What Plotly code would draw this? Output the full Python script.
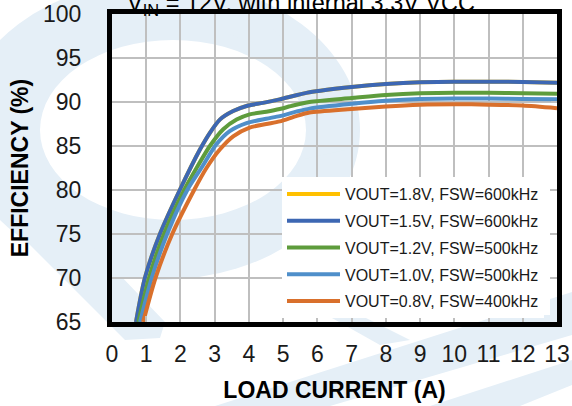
import plotly.graph_objects as go

# load current (A) / efficiency (%)
load_18 = [0.7, 0.96, 1.4, 1.98, 2.57, 2.86, 3.15, 3.54, 3.93, 4.41, 4.9, 5.77, 7, 8, 9, 10, 11, 12, 13]
eff_18 = [65, 70, 75, 80, 84.6, 86.5, 88.0, 88.97, 89.55, 89.9, 90.3, 91.1, 91.7, 92.05, 92.25, 92.3, 92.3, 92.28, 92.2]

load_15 = [0.7, 0.96, 1.4, 1.98, 2.57, 2.86, 3.15, 3.54, 3.93, 4.41, 4.9, 5.77, 7, 8, 9, 10, 11, 12, 13]
eff_15 = [65, 70, 75, 80, 84.6, 86.5, 88.0, 88.97, 89.55, 89.9, 90.3, 91.1, 91.7, 92.05, 92.25, 92.3, 92.3, 92.28, 92.2]

load_12 = [0.77, 1.08, 1.52, 2.11, 2.47, 2.86, 3.25, 3.64, 4.02, 4.51, 4.9, 5.29, 5.77, 7, 8, 9, 10, 11, 12, 13]
eff_12 = [65, 70, 75, 80, 82.5, 85.0, 86.9, 88.0, 88.6, 88.9, 89.2, 89.6, 90.0, 90.45, 90.8, 91.0, 91.05, 91.05, 91.0, 90.95]

load_10 = [0.82, 1.16, 1.61, 2.2, 2.61, 3.05, 3.44, 3.93, 4.51, 4.9, 5.38, 5.77, 7, 8, 9, 10, 11, 12, 13]
eff_10 = [65, 70, 75, 80, 82.5, 85.2, 86.7, 87.6, 88.1, 88.4, 88.9, 89.25, 89.8, 90.15, 90.35, 90.4, 90.4, 90.35, 90.3]

load_08 = [0.91, 1.27, 1.76, 2.4, 2.76, 3.15, 3.54, 4.02, 4.51, 4.9, 5.38, 5.77, 7, 8, 9, 10, 11, 12, 13]
eff_08 = [65, 70, 75, 80, 82.5, 84.6, 86.1, 87.1, 87.5, 87.8, 88.4, 88.8, 89.2, 89.5, 89.7, 89.75, 89.7, 89.6, 89.3]

series = [
    ("VOUT=1.8V, FSW=600kHz", load_18, eff_18, "#ffc000"),
    ("VOUT=1.5V, FSW=600kHz", load_15, eff_15, "#3d67b3"),
    ("VOUT=1.2V, FSW=500kHz", load_12, eff_12, "#5e9c3c"),
    ("VOUT=1.0V, FSW=500kHz", load_10, eff_10, "#4f8fca"),
    ("VOUT=0.8V, FSW=400kHz", load_08, eff_08, "#d9702c"),
]

W, H = 572, 406
L, R, T, B = 112, 15, 14, 84
PW, PH = W - L - R, H - T - B
FONT = "Arial, Liberation Sans, sans-serif"
WM = "#e5eff7"


def px(x, y):
    # page pixel -> paper coordinates
    return (x - L) / PW, (H - B - y) / PH


def poly(points):
    pts = [px(x, y) for x, y in points]
    return "M" + " L".join(f"{a:.4f},{b:.4f}" for a, b in pts) + " Z"


def rect(x0, y0, x1, y1, color, layer):
    a0, b0 = px(x0, y1)
    a1, b1 = px(x1, y0)
    return dict(type="rect", xref="paper", yref="paper", x0=a0, y0=b0, x1=a1, y1=b1,
                fillcolor=color, line_width=0, layer=layer)


def ellipse(x0, y0, x1, y1, color):
    d = rect(x0, y0, x1, y1, color, "below")
    d["type"] = "circle"
    return d


def band(points):
    return dict(type="path", xref="paper", yref="paper", path=poly(points),
                fillcolor=WM, line_width=0, layer="below")


# faint logo watermark behind the chart
shapes = [
    ellipse(-40, -20, 360, 280, WM),
    band([(120, -5), (243, -5), (357, 122), (358, 140), (345, 150), (300, 160), (300, 60)]),
    ellipse(40, 40, 306, 220, "white"),
    band([(0, 150), (165, 322), (160, 338), (125, 340), (0, 215)]),
    band([(215, 406), (330, 406), (572, 335), (572, 292)]),
    band([(300, 300), (330, 300), (410, 340), (380, 345)]),
    band([(430, 406), (520, 406), (572, 385), (572, 360)]),
    # legend box in the original runs almost to the right frame
    rect(543, 183, 550, 315, "white", "above"),
]

fig = go.Figure()
for i, (name, xs, ys, color) in enumerate(series):
    fig.add_trace(go.Scatter(
        x=xs, y=ys, name=name, mode="lines",
        line=dict(color=color, width=4, shape="spline", smoothing=0.7),
        legendgroup=f"g{i}",
    ))

axis_common = dict(
    showline=True, linewidth=5, linecolor="black", mirror="allticks",
    showgrid=True, gridcolor="#bfbfbf", gridwidth=1.5,
    ticks="inside", ticklen=6, tickwidth=1.5, tickcolor="#bfbfbf",
    zeroline=False, automargin=False,
    tickfont=dict(size=23, color="#1a1a1a", family=FONT),
)

fig.update_layout(
    width=W, height=H,
    margin=dict(l=L, r=R, t=T, b=B),
    paper_bgcolor="white",
    plot_bgcolor="rgba(0,0,0,0)",
    font=dict(family=FONT, color="#1a1a1a"),
    shapes=shapes,
    xaxis=dict(
        range=[0, 13], dtick=1, tick0=0, ticklabelstandoff=7,
        title=dict(text="<b>LOAD CURRENT (A)</b>", font=dict(size=23, family=FONT, color="black"), standoff=18),
        **axis_common,
    ),
    yaxis=dict(
        range=[65, 100], dtick=5, tick0=65, ticklabelstandoff=21,
        title=dict(text="<b>EFFICIENCY (%)</b>", font=dict(size=23, family=FONT, color="black"), standoff=9),
        **axis_common,
    ),
    legend=dict(
        x=(544 - L) / PW, xanchor="right",
        y=(H - B - 177) / PH, yanchor="top",
        bgcolor="white", borderwidth=0,
        font=dict(size=16, family=FONT, color="#1a1a1a"),
        tracegroupgap=3, itemwidth=53, traceorder="grouped",
    ),
    annotations=[dict(
        text="V<sub>IN</sub> = 12V, with internal 3.3V VCC",
        xref="paper", yref="paper", x=(125 - L) / PW, y=1,
        xanchor="left", yanchor="bottom", yshift=-7, showarrow=False,
        font=dict(size=23.5, family=FONT, color="black"),
    )],
)

# drop the default page margin so the figure sits at the window origin
fig.write_html("out.html", config={"displayModeBar": False},
               post_script="document.body.style.margin = '0';")
